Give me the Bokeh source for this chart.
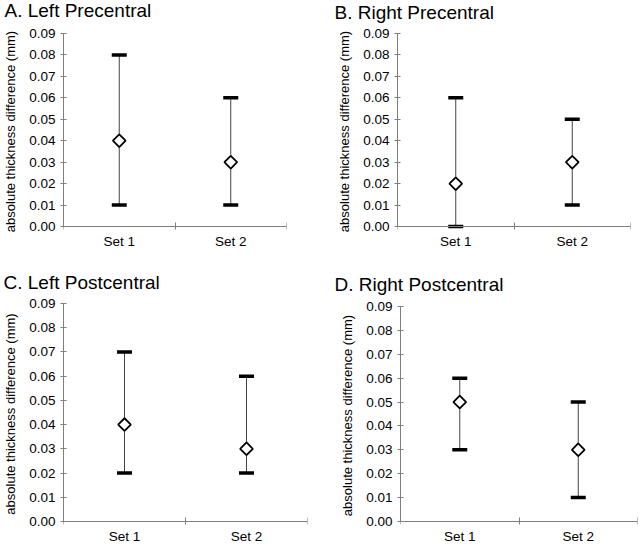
from bokeh.plotting import figure
from bokeh.models import Range1d, FactorRange, FixedTicker, NumeralTickFormatter, ColumnDataSource, LinearAxis
from bokeh.layouts import column, row
from bokeh.embed import file_html
from bokeh.resources import INLINE

categories = ["Set 1", "Set 2"]
y_ticks = [0.00, 0.01, 0.02, 0.03, 0.04, 0.05, 0.06, 0.07, 0.08, 0.09]
y_label = "absolute thickness difference (mm)"

a_title = "A. Left Precentral"
a_mean = [0.04, 0.03]
a_low = [0.01, 0.01]
a_high = [0.08, 0.06]

b_title = "B. Right Precentral"
b_mean = [0.02, 0.03]
b_low = [0.00, 0.01]
b_high = [0.06, 0.05]

c_title = "C. Left Postcentral"
c_mean = [0.04, 0.03]
c_low = [0.02, 0.02]
c_high = [0.07, 0.06]

d_title = "D. Right Postcentral"
d_mean = [0.05, 0.03]
d_low = [0.03, 0.01]
d_high = [0.06, 0.05]

FONT = "Liberation Sans"
AXIS_COLOR = "#7f7f7f"
TITLE_H = 24  # estimated height of the title box (text + 2px)


def panel(title, mean, low, high, width, left, right, frame_top, axis_px, bottom,
          title_offset, title_standoff, top_margin):
    n = len(categories)
    pad = 0.09 * 3.0 / axis_px
    frame_h = axis_px + 3
    top = TITLE_H + title_standoff
    height = top + frame_h + bottom
    p = figure(width=width, height=height, output_backend="svg", toolbar_location=None,
               x_range=FactorRange(*categories), y_range=Range1d(-pad, y_ticks[-1]),
               min_border_left=left, min_border_right=right,
               min_border_top=0, min_border_bottom=bottom,
               tools="", margin=(top_margin, 0, 0, 0))
    p.outline_line_color = None
    p.grid.visible = False
    p.background_fill_color = "white"
    p.border_fill_color = "white"

    p.title.text = title
    p.title.text_font = FONT
    p.title.text_font_size = "19px"
    p.title.text_font_style = "normal"
    p.title.text_color = "black"
    p.title.align = "left"
    p.title.offset = title_offset
    p.title.standoff = title_standoff

    # y axis
    ya = p.yaxis[0]
    ya.ticker = FixedTicker(ticks=y_ticks)
    ya.formatter = NumeralTickFormatter(format="0.00")
    ya.bounds = (y_ticks[0], y_ticks[-1])
    ya.axis_label = y_label
    ya.axis_label_text_font = FONT
    ya.axis_label_text_font_size = "13px"
    ya.axis_label_text_font_style = "normal"
    ya.axis_label_text_color = "black"
    ya.axis_label_standoff = 8
    ya.major_label_text_font = FONT
    ya.major_label_text_font_size = "13.5px"
    ya.major_label_text_color = "black"
    ya.major_label_standoff = 5
    ya.axis_line_color = AXIS_COLOR
    ya.major_tick_line_color = AXIS_COLOR
    ya.major_tick_in = 3
    ya.major_tick_out = 3
    ya.minor_tick_line_color = None

    # category labels (no line, no ticks)
    xa = p.xaxis[0]
    xa.axis_line_color = None
    xa.major_tick_line_color = None
    xa.major_tick_in = 0
    xa.major_tick_out = 0
    xa.major_label_text_font = FONT
    xa.major_label_text_font_size = "13.5px"
    xa.major_label_text_color = "black"
    xa.major_label_standoff = 4

    # axis line at y = 0 with ticks at the category boundaries
    xb = LinearAxis(ticker=FixedTicker(ticks=[], minor_ticks=list(range(n + 1))),
                    axis_line_color=AXIS_COLOR,
                    major_tick_line_color=None, major_tick_in=0, major_tick_out=0,
                    minor_tick_line_color=AXIS_COLOR, minor_tick_in=4, minor_tick_out=4,
                    major_label_text_font_size="0px", fixed_location=0)
    p.add_layout(xb, "below")

    src = ColumnDataSource(dict(x=categories, mean=mean, low=low, high=high))
    p.segment(x0="x", y0="low", x1="x", y1="high", source=src, line_color="#444444", line_width=1)
    p.rect(x="x", y="low", width=15, height=3.5, width_units="screen", height_units="screen",
           source=src, fill_color="black", line_color=None)
    p.rect(x="x", y="high", width=15, height=3.5, width_units="screen", height_units="screen",
           source=src, fill_color="black", line_color=None)
    p.scatter(x="x", y="mean", source=src, marker="square", angle=0.785398, size=9,
              fill_color="white", line_color="black", line_width=1.8)
    return p


def placed(title, mean, low, high, width, left, right, row_top, frame_top, axis_px, row_bottom,
           title_offset, title_gap):
    top = TITLE_H + title_gap
    fig_top = frame_top - top
    frame_bottom = frame_top + axis_px + 3
    return panel(title, mean, low, high, width, left, right, frame_top, axis_px,
                 row_bottom - frame_bottom, title_offset, title_gap, fig_top - row_top)


pa = placed(a_title, a_mean, a_low, a_high, 320, 61, 34, 0, 34, 192, 270, -59, 25)
pb = placed(b_title, b_mean, b_low, b_high, 320, 77, 10, 0, 31, 197, 270, -63, 22)
pc = placed(c_title, c_mean, c_low, c_high, 320, 62, 13, 270, 303, 218, 546, -60, 22)
pd = placed(d_title, d_mean, d_low, d_high, 320, 80, 3, 270, 307, 214, 546, -66, 23)

layout = column(row(pa, pb), row(pc, pd))

open("out.html", "w").write(file_html(layout, INLINE))
